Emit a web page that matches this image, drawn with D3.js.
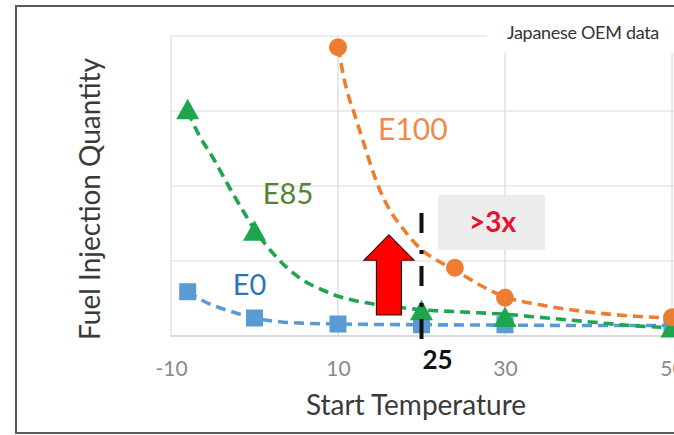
<!DOCTYPE html>
<html>
<head>
<meta charset="utf-8">
<script src="https://cdn.jsdelivr.net/npm/d3@7"></script>
<style>
  html, body { margin: 0; padding: 0; background: #fff; }
  svg { display: block; }
  text { font-family: Lato, "Open Sans", sans-serif; }
</style>
</head>
<body>
<svg id="chart" width="674" height="435"></svg>
<script>
// Start temperature (°C) vs relative fuel injection quantity
const xTicks = [-10, 10, 30, 50];
const yGrid = [1, 2, 3, 4];

// Measured points
const e0Temp = [-8, 0, 10, 20, 30, 50];
const e0Qty = [0.59, 0.24, 0.16, 0.15, 0.15, 0.14];
const e85Temp = [-8, 0, 20, 30, 50];
const e85Qty = [2.99, 1.37, 0.31, 0.22, 0.08];
const e100Temp = [10, 24, 30, 50];
const e100Qty = [3.85, 0.91, 0.51, 0.25];

// Trend curves
const e0TrendTemp = [-8, -6, -4, -2, 0, 3, 6, 10, 20, 30, 40, 50];
const e0TrendQty = [0.59, 0.46, 0.37, 0.30, 0.24, 0.19, 0.17, 0.16, 0.15, 0.145, 0.14, 0.14];
const e85TrendTemp = [-8, -6.5, -5, -3, -1, 0, 2, 4, 6, 8, 10, 13, 16, 20, 25, 30, 35, 40, 45, 50];
const e85TrendQty = [2.99, 2.65, 2.38, 1.98, 1.6, 1.42, 1.13, 0.9, 0.73, 0.62, 0.53, 0.45, 0.40, 0.35, 0.32, 0.29, 0.24, 0.19, 0.14, 0.11];
const e100TrendTemp = [10, 11, 12, 13, 14, 15, 16, 18, 20, 22, 24, 27, 30, 34, 40, 46, 50];
const e100TrendQty = [3.85, 3.3, 2.95, 2.6, 2.25, 1.95, 1.72, 1.40, 1.15, 1.0, 0.88, 0.68, 0.52, 0.42, 0.32, 0.26, 0.24];

const seriesNames = ["E0", "E85", "E100"];
const roomTempLabel = "25";
const roomTempAt = 20;      // x position of the room-temperature marker line
const ratioLabel = ">3x";
const sourceNote = "Japanese OEM data";
const xTitle = "Start Temperature";
const yTitle = "Fuel Injection Quantity";

const svg = d3.select("#chart");
const x = d3.scaleLinear().domain([-10, 50]).range([171, 672]);
const y = d3.scaleLinear().domain([0, 4]).range([336, 36]);

const C = {
  e0: "#5B9BD5", e0Label: "#2E75B6",
  e85: "#1EA64E", e85Label: "#548235",
  e100: "#ED7D31", e100Label: "#EE8A4A",
  grid: "#d9d9d9"
};

// outer frame
svg.append("rect").attr("x", 16).attr("y", 6).attr("width", 700).attr("height", 427)
  .attr("fill", "#fff").attr("stroke", "#5a5a5a").attr("stroke-width", 2);

// gridlines
const g = svg.append("g");
g.selectAll(".hg").data(yGrid).join("line")
  .attr("x1", x(-10)).attr("x2", 700).attr("y1", d => y(d)).attr("y2", d => y(d))
  .attr("stroke", C.grid).attr("stroke-width", 1.2);
g.selectAll(".vg").data(xTicks).join("line")
  .attr("x1", d => x(d)).attr("x2", d => x(d)).attr("y1", y(4)).attr("y2", y(0))
  .attr("stroke", C.grid).attr("stroke-width", 1.2);
g.append("line").attr("x1", x(-10)).attr("x2", 700).attr("y1", y(0)).attr("y2", y(0))
  .attr("stroke", "#cfcfcf").attr("stroke-width", 1.6);

// x axis tick labels (last one runs past the frame edge)
const xAxis = d3.axisBottom(x).tickValues(xTicks).tickSize(0).tickPadding(25)
  .tickFormat(d => String(d));
const ax = svg.append("g").attr("transform", `translate(0,${y(0)})`).call(xAxis);
ax.select(".domain").remove();
ax.selectAll("text").attr("font-size", 21).attr("fill", "#8a8a8a")
  .style("font-family", "Lato, sans-serif");

// source note with white backing
svg.append("rect").attr("x", 487).attr("y", 18).attr("width", 200).attr("height", 35).attr("fill", "#fff");
svg.append("text").attr("x", 507).attr("y", 39).attr("font-size", 18).attr("fill", "#333")
  .attr("letter-spacing", -0.3).text(sourceNote);

// trend curves
const line = d3.line().x(d => x(d[0])).y(d => y(d[1])).curve(d3.curveMonotoneX);
const trends = [
  [e0TrendTemp, e0TrendQty, C.e0],
  [e85TrendTemp, e85TrendQty, C.e85],
  [e100TrendTemp, e100TrendQty, C.e100]
];
trends.forEach(([t, q, c]) => {
  svg.append("path").datum(d3.zip(t, q)).attr("d", line)
    .attr("fill", "none").attr("stroke", c).attr("stroke-width", 3.6)
    .attr("stroke-dasharray", "10,6");
});

// markers
svg.selectAll(".sq").data(d3.zip(e0Temp, e0Qty)).join("rect")
  .attr("x", d => x(d[0]) - 8.5).attr("y", d => y(d[1]) - 8.5)
  .attr("width", 17).attr("height", 17).attr("fill", C.e0);
const tri = (cx, cy) => `M${cx},${cy - 13}L${cx + 11.5},${cy + 7.5}L${cx - 11.5},${cy + 7.5}Z`;
svg.selectAll(".tr").data(d3.zip(e85Temp, e85Qty)).join("path")
  .attr("d", d => tri(x(d[0]), y(d[1]))).attr("fill", C.e85);
svg.selectAll(".ci").data(d3.zip(e100Temp, e100Qty)).join("circle")
  .attr("cx", d => x(d[0])).attr("cy", d => y(d[1])).attr("r", 9).attr("fill", C.e100);

// series labels
svg.append("text").attr("x", x(14.8)).attr("y", y(2.62)).attr("font-size", 30).attr("fill", C.e100Label).text(seriesNames[2]);
svg.append("text").attr("x", x(1.0)).attr("y", y(1.76)).attr("font-size", 29).attr("fill", C.e85Label).text(seriesNames[1]);
svg.append("text").attr("x", x(-2.6)).attr("y", y(0.55)).attr("font-size", 29).attr("fill", C.e0Label).text(seriesNames[0]);

// ratio callout
svg.append("rect").attr("x", x(22)).attr("y", y(1.88)).attr("width", x(34.8) - x(22)).attr("height", y(1.15) - y(1.88))
  .attr("fill", "#ececec");
svg.append("text").attr("x", (x(22) + x(34.8)) / 2 + 1).attr("y", y(1.52) + 10).attr("text-anchor", "middle")
  .attr("font-size", 28).attr("font-weight", "bold").attr("fill", "#e8112d").text(ratioLabel);

// upward arrow
const ax0 = x(16.1), aBot = y(0.28), aBase = y(1.01), aTip = y(1.35);
svg.append("path")
  .attr("d", `M${ax0 - 12.5},${aBot}L${ax0 + 12.5},${aBot}L${ax0 + 12.5},${aBase}L${ax0 + 25},${aBase}L${ax0},${aTip}L${ax0 - 25},${aBase}L${ax0 - 12.5},${aBase}Z`)
  .attr("fill", "#ff0000").attr("stroke", "#3a1010").attr("stroke-width", 1.2);

// room-temperature marker line
svg.append("line").attr("x1", x(roomTempAt)).attr("x2", x(roomTempAt))
  .attr("y1", y(1.64)).attr("y2", y(-0.12))
  .attr("stroke", "#111").attr("stroke-width", 4).attr("stroke-dasharray", "20,17,4,12");
svg.append("text").attr("x", x(roomTempAt) + 16).attr("y", 369).attr("text-anchor", "middle")
  .attr("font-size", 26).attr("font-weight", "bold").attr("fill", "#111").text(roomTempLabel);

// axis titles
svg.append("text").attr("x", 416).attr("y", 415).attr("text-anchor", "middle")
  .attr("font-size", 28).attr("fill", "#3a3a3a").text(xTitle);
svg.append("text").attr("transform", "translate(100,199) rotate(-90)").attr("text-anchor", "middle")
  .attr("font-size", 28).attr("fill", "#3a3a3a").text(yTitle);
</script>
</body>
</html>
